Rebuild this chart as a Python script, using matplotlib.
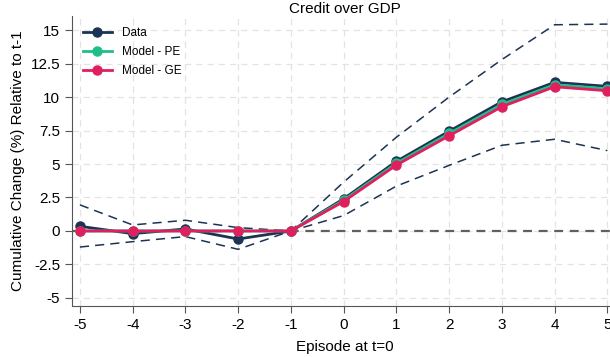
import matplotlib
matplotlib.use("Agg")
import matplotlib.pyplot as plt
import numpy as np

plt.rcParams['font.family'] = ['Liberation Sans', 'DejaVu Sans']
plt.rcParams['axes.unicode_minus'] = False

periods = [-5, -4, -3, -2, -1, 0, 1, 2, 3, 4, 5]
data = [0.35, -0.2, 0.15, -0.6, 0.0, 2.4, 5.2, 7.45, 9.65, 11.1, 10.8]
ci_upper = [1.95, 0.45, 0.8, 0.25, 0.0, 3.65, 7.0, 10.0, 12.8, 15.4, 15.45]
ci_lower = [-1.2, -0.8, -0.42, -1.37, 0.0, 1.15, 3.35, 4.9, 6.4, 6.85, 6.0]
model_pe = [0.0, 0.0, 0.0, 0.0, 0.0, 2.3, 5.05, 7.28, 9.45, 10.92, 10.62]
model_ge = [0.0, 0.0, 0.0, 0.0, 0.0, 2.2, 4.92, 7.11, 9.28, 10.77, 10.47]

navy = '#1c3354'
green = '#1fbf8c'
crimson = '#e0205e'

fig = plt.figure(figsize=(6.1, 3.57), dpi=100)
ax = fig.add_axes([0.118, 0.143, 0.895, 0.812])

# zero reference line and confidence band edges
ax.axhline(0, color='#606060', lw=1.6, ls=(0, (4, 3)), zorder=1)
ax.plot(periods, ci_upper, color=navy, lw=1.1, ls=(0, (6, 4)), zorder=2)
ax.plot(periods, ci_lower, color=navy, lw=1.1, ls=(0, (6, 4)), zorder=2)

ax.plot(periods, data, color=navy, lw=2, marker='o', ms=6.5, label='Data', zorder=3)
ax.plot(periods, model_pe, color=green, lw=2, marker='o', ms=6.5, label='Model - PE', zorder=4)
ax.plot(periods, model_ge, color=crimson, lw=2, marker='o', ms=6.5, label='Model - GE', zorder=5)

ax.set_xlim(-5.15, 5.2)
ax.set_ylim(-5.6, 16.05)
ax.set_xticks(periods)
ax.set_yticks([-5, -2.5, 0, 2.5, 5, 7.5, 10, 12.5, 15])
ax.set_yticklabels(['-5', '-2.5', '0', '2.5', '5', '7.5', '10', '12.5', '15'])
ax.tick_params(labelsize=11, color='#555555', length=5)

ax.grid(True, color='#e3e3e3', lw=0.9, ls=(0, (5, 4)))
ax.set_axisbelow(True)
for s in ['top', 'right']:
    ax.spines[s].set_visible(False)
for s in ['left', 'bottom']:
    ax.spines[s].set_color('#555555')

ax.set_title('Credit over GDP', fontsize=11, pad=2)
ax.set_xlabel('Episode at t=0', fontsize=11, labelpad=6)
ax.set_ylabel('Cumulative Change (%) Relative to t-1', fontsize=11)

ax.legend(loc='upper left', frameon=False, fontsize=8.5, handlelength=2.5,
          labelspacing=0.6, bbox_to_anchor=(0.0, 1.0))

fig.savefig('out.png', dpi=100)
